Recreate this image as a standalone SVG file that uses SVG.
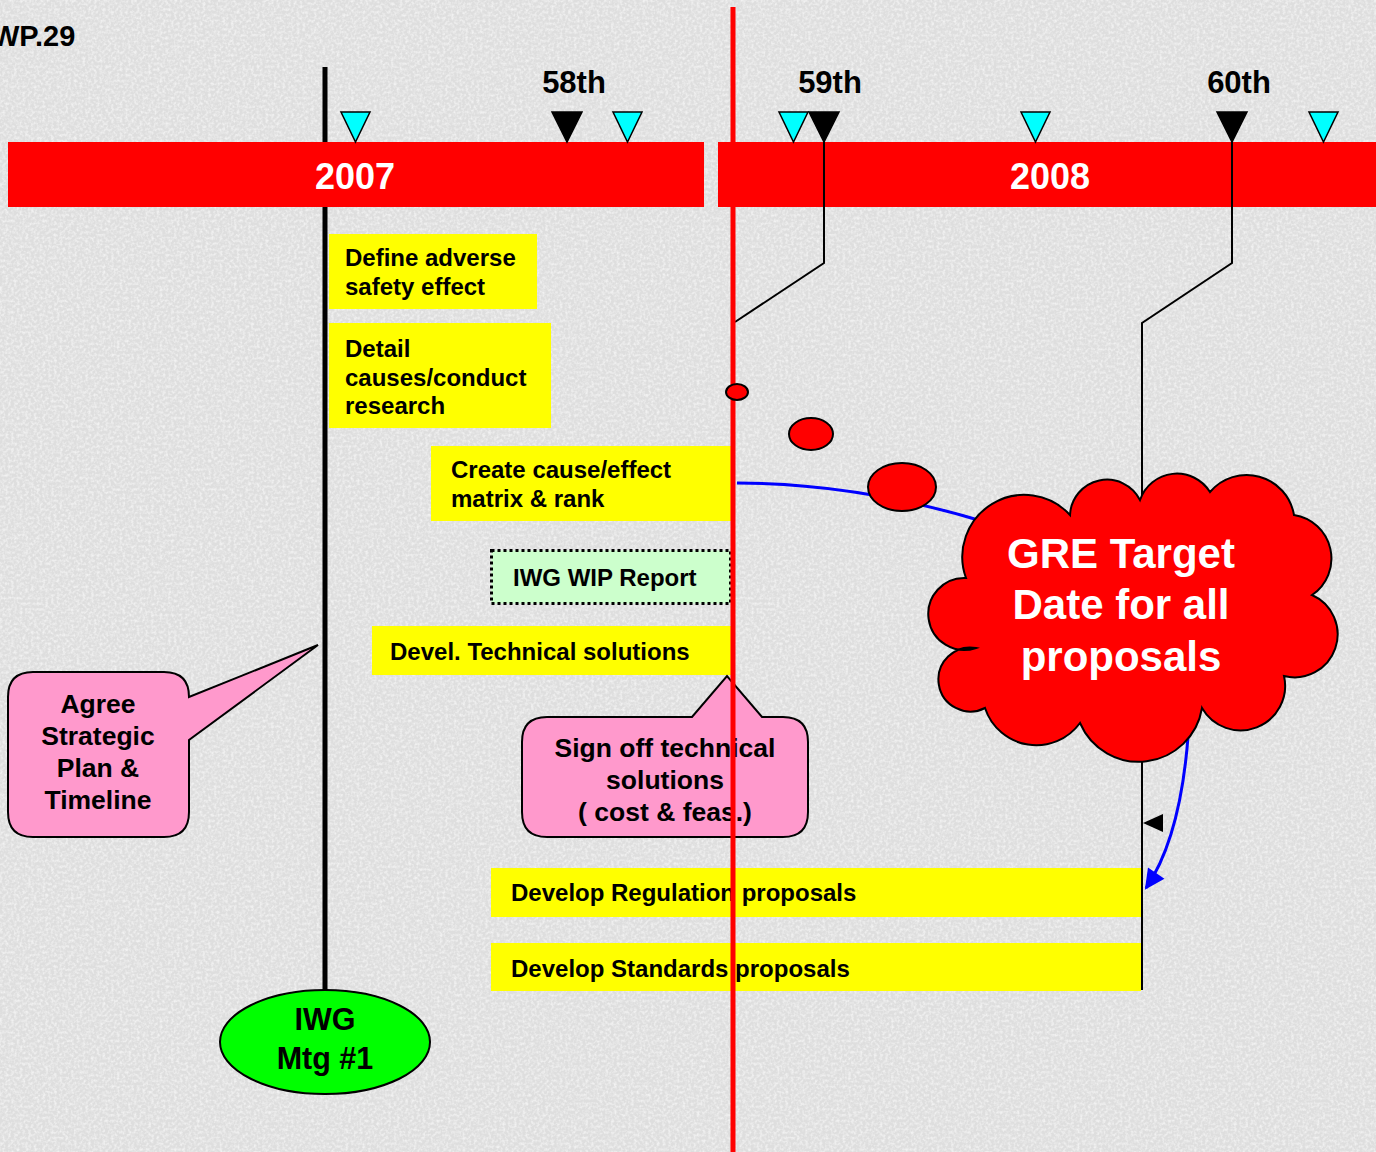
<svg xmlns="http://www.w3.org/2000/svg" width="1376" height="1152" viewBox="0 0 1376 1152">
<defs>
<style>
.t{font-family:"Liberation Sans",Arial,sans-serif;font-weight:bold;fill:#000}
.w{font-family:"Liberation Sans",Arial,sans-serif;font-weight:bold;fill:#fff}
.ybox{fill:#ffff00}
.cyan{fill:#00ffff;stroke:#000;stroke-width:1.5}
.blk{fill:#000;stroke:#000;stroke-width:1.5}
.thin{fill:none;stroke:#000;stroke-width:2}
.pink{fill:#ff99cc;stroke:#000;stroke-width:2}
.bub{fill:#ff0000;stroke:#000;stroke-width:2}
.blue{fill:none;stroke:#0000ff;stroke-width:3}
</style>
<marker id="ah" viewBox="0 0 10 10" refX="9" refY="5" markerWidth="22" markerHeight="20" markerUnits="userSpaceOnUse" orient="auto">
<path d="M0,0 L10,5 L0,10 Z" fill="#0000ff"/>
</marker>
<filter id="grain" x="0" y="0" width="100%" height="100%">
<feTurbulence type="fractalNoise" baseFrequency="0.35" numOctaves="2" seed="7"/>
<feColorMatrix type="matrix" values="0 0 0 0 1  0 0 0 0 1  0 0 0 0 1  0 0 0 -2.2 1.35"/>
</filter>
</defs>
<rect x="0" y="0" width="1376" height="1152" fill="#dedede"/>
<rect x="0" y="0" width="1376" height="1152" filter="url(#grain)" opacity="0.6"/>
<text class="t" x="-8" y="46" font-size="29">WP.29</text>

<g id="iwg-line"><line x1="325" y1="67" x2="325" y2="992" stroke="#000" stroke-width="5"/></g>

<g id="year-2007"><rect x="8" y="142" width="696" height="65" fill="#ff0000"/><text class="w" x="355" y="189" font-size="36" text-anchor="middle">2007</text></g>
<g id="year-2008"><rect x="718" y="142" width="658" height="65" fill="#ff0000"/><text class="w" x="1050" y="189" font-size="36" text-anchor="middle">2008</text></g>

<g id="milestones">
<polygon class="cyan" points="341,112 370,112 355.5,142"/>
<polygon class="blk" points="552,112 582,112 567,142"/>
<polygon class="cyan" points="613,112 642,112 627.5,142"/>
<polygon class="cyan" points="779,112 808,112 793.5,142"/>
<polygon class="blk" points="809,112 839,112 824,142"/>
<polygon class="cyan" points="1021,112 1050,112 1035.5,142"/>
<polygon class="blk" points="1217,112 1247,112 1232,142"/>
<polygon class="cyan" points="1309,112 1338,112 1323.5,142"/>
<text class="t" x="574" y="93" font-size="31" text-anchor="middle">58th</text>
<text class="t" x="830" y="93" font-size="31" text-anchor="middle">59th</text>
<text class="t" x="1239" y="93" font-size="31" text-anchor="middle">60th</text>
</g>

<g id="connectors">
<polyline class="thin" points="824,142 824,263 735,322"/>
<polyline class="thin" points="1232,142 1232,263 1142,323 1142,990"/>
<polygon points="1143,823 1163,814 1163,832" fill="#000"/>
<path class="blue" d="M737,483 C800,483 880,490 985,522"/>
<path class="blue" d="M1190,700 Q1186,830 1146,888" marker-end="url(#ah)"/>
</g>

<g id="n-define"><rect class="ybox" x="329" y="234" width="208" height="75"/><text class="t" font-size="24"><tspan x="345" y="266">Define adverse</tspan><tspan x="345" y="295">safety effect</tspan></text></g>
<g id="n-detail"><rect class="ybox" x="329" y="323" width="222" height="105"/><text class="t" font-size="24"><tspan x="345" y="357">Detail</tspan><tspan x="345" y="386">causes/conduct</tspan><tspan x="345" y="414">research</tspan></text></g>
<g id="n-matrix"><rect class="ybox" x="431" y="446" width="300" height="75"/><text class="t" font-size="24"><tspan x="451" y="478">Create cause/effect</tspan><tspan x="451" y="507">matrix &amp; rank</tspan></text></g>
<g id="n-wip"><rect x="491.5" y="550.5" width="239" height="53" fill="#ccffcc" stroke="#000" stroke-width="3" stroke-dasharray="3,3"/><text class="t" x="513" y="586" font-size="24">IWG WIP Report</text></g>
<g id="n-devel"><rect class="ybox" x="372" y="626" width="359" height="49"/><text class="t" x="390" y="660" font-size="24">Devel. Technical solutions</text></g>
<g id="n-reg"><rect class="ybox" x="491" y="868" width="650" height="49"/><text class="t" x="511" y="901" font-size="24">Develop Regulation proposals</text></g>
<g id="n-std"><rect class="ybox" x="491" y="943" width="650" height="48"/><text class="t" x="511" y="977" font-size="24">Develop Standards proposals</text></g>

<g id="n-signoff"><path class="pink" d="M547,717 L692,717 L727,676 L762,717 L783,717 Q808,717 808,742 L808,812 Q808,837 783,837 L547,837 Q522,837 522,812 L522,742 Q522,717 547,717 Z"/><text class="t" font-size="26.5" text-anchor="middle"><tspan x="665" y="757">Sign off technical</tspan><tspan x="665" y="789">solutions</tspan><tspan x="665" y="821">( cost &amp; feas.)</tspan></text></g>

<g id="n-agree"><path class="pink" d="M33,672 L164,672 Q189,672 189,697 L318,645 L189,740 L189,812 Q189,837 164,837 L33,837 Q8,837 8,812 L8,697 Q8,672 33,672 Z"/><text class="t" font-size="26.5" text-anchor="middle"><tspan x="98" y="713">Agree</tspan><tspan x="98" y="745">Strategic</tspan><tspan x="98" y="777">Plan &amp;</tspan><tspan x="98" y="809">Timeline</tspan></text></g>

<g id="n-mtg"><ellipse cx="325" cy="1042" rx="105" ry="52" fill="#00ff00" stroke="#000" stroke-width="2"/><text class="t" font-size="30.5" text-anchor="middle"><tspan x="325" y="1030">IWG</tspan><tspan x="325" y="1069">Mtg #1</tspan></text></g>

<g id="n-gre"><path class="bub" d="M966,578 A62,62 0 0 1 1070,515 A37,37 0 0 1 1140,500 A39,39 0 0 1 1210,492 A48,48 0 0 1 1294,515 A44,44 0 0 1 1312,595 A43,43 0 0 1 1284,676 A44.5,44.5 0 0 1 1202,708 A64,64 0 0 1 1080,723 A54,54 0 0 1 985,708 A32,32 0 1 1 976,648 A36,36 0 1 1 966,578 Z"/><text class="w" font-size="42" text-anchor="middle"><tspan x="1121" y="568">GRE Target</tspan><tspan x="1121" y="619">Date for all</tspan><tspan x="1121" y="671">proposals</tspan></text></g>

<g id="today-line"><line x1="733" y1="7" x2="733" y2="1152" stroke="#ff0000" stroke-width="5"/></g>

<g id="thought-bubbles">
<ellipse class="bub" cx="737" cy="392" rx="11" ry="8"/>
<ellipse class="bub" cx="811" cy="434" rx="22" ry="16"/>
<ellipse class="bub" cx="902" cy="487" rx="34" ry="24"/>
</g>
</svg>
